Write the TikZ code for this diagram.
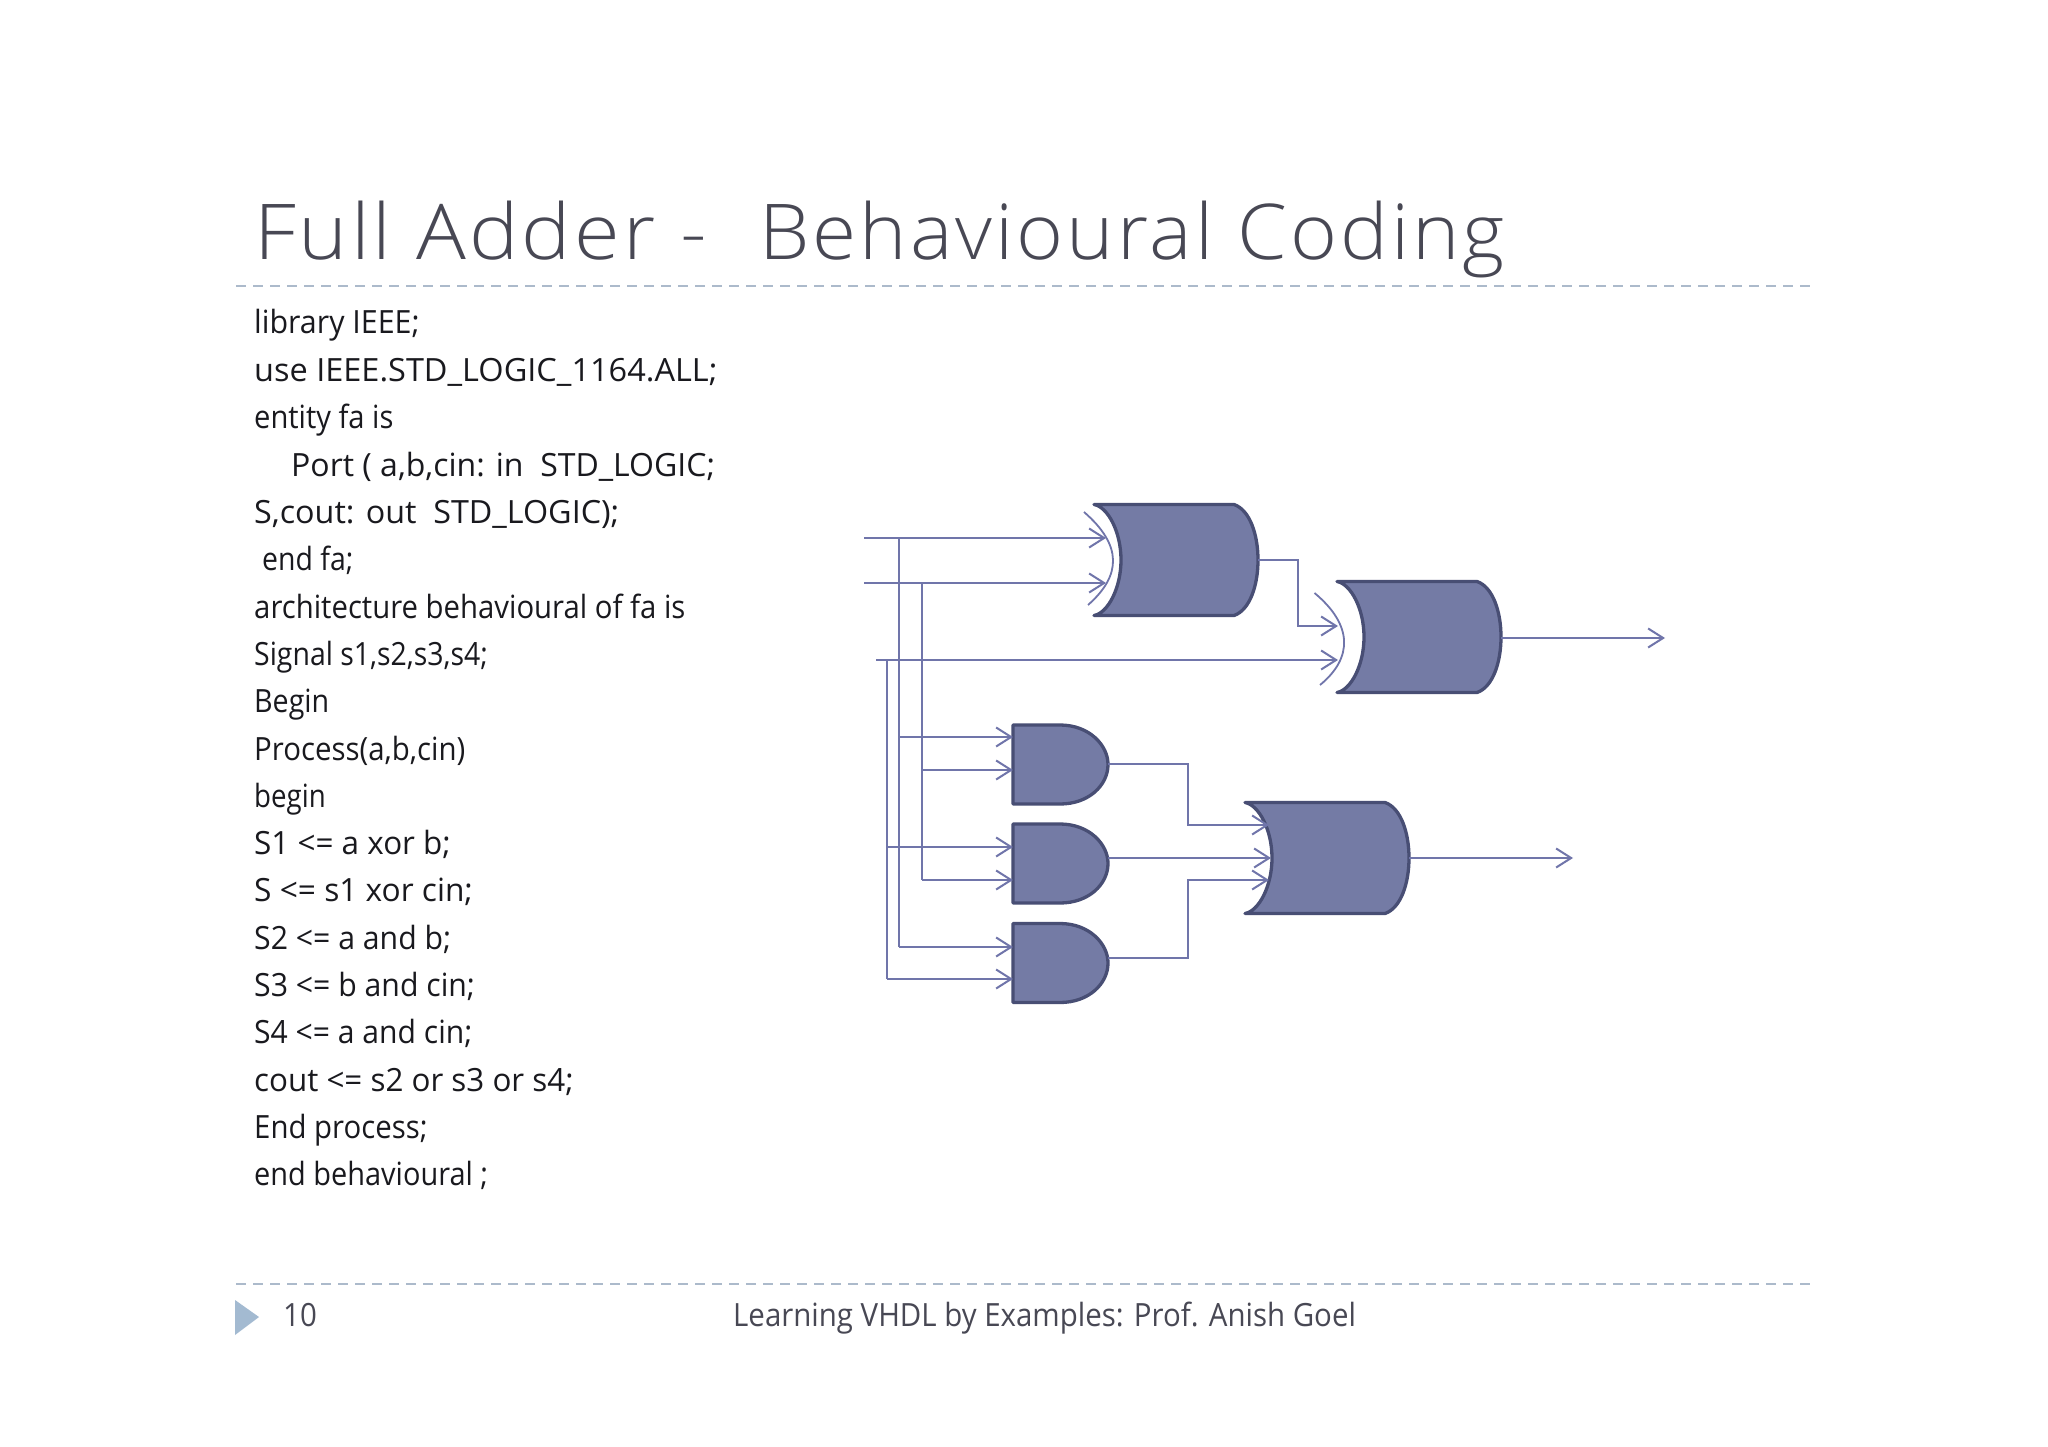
\documentclass[tikz,border=0pt]{standalone}
\usepackage{fontspec}
\usepackage{graphicx}
\usetikzlibrary{arrows.meta}
\newfontfamily\titlef[LetterSpace=4,FakeStretch=1.06]{Open Sans Light}
\newfontfamily\bodyf[FakeStretch=0.80]{Open Sans}
\newfontfamily\footf[FakeStretch=0.92]{Open Sans}
\definecolor{gatefill}{RGB}{116,123,165}
\definecolor{gateedge}{RGB}{72,78,116}
\definecolor{wire}{RGB}{112,117,170}
\definecolor{rulec}{RGB}{172,186,203}
\definecolor{titlec}{RGB}{72,72,84}
\definecolor{bodyc}{RGB}{25,25,30}
\definecolor{footc}{RGB}{72,72,84}
\definecolor{tric}{RGB}{163,186,209}
\tikzset{
  x=1pt,y=-1pt,
  gatepath/.style={fill=gatefill,draw=gateedge,line width=3.3pt,line join=round},
  wirepath/.style={draw=wire,line width=2pt},
  inw/.style={wirepath,-{Straight Barb[length=15pt,width=19pt,line width=2pt]}},
  shield/.style={draw=wire,line width=1.8pt},
  dashrule/.style={draw=rulec,line width=2.6pt,dash pattern=on 10pt off 7pt},
  codeline/.style={anchor=base west,inner sep=0pt,font=\bodyf\fontsize{32}{32}\selectfont,text=bodyc},
  footline/.style={anchor=base west,inner sep=0pt,text=footc,font=\footf\fontsize{32}{32}\selectfont},
}
\newcommand{\sx}[2]{\scalebox{#1}[1]{#2}}
\newcommand{\xorgate}[2]{% #1 x of tip, #2 mid y
  \path[gatepath] (#1,#2-55.5) -- (#1+140,#2-55.5)
    .. controls (#1+156,#2-50) and (#1+164,#2-25) .. (#1+164,#2)
    .. controls (#1+164,#2+25) and (#1+156,#2+50) .. (#1+140,#2+55.5)
    -- (#1,#2+55.5)
    .. controls (#1+14,#2+53) and (#1+27,#2+28) .. (#1+27,#2)
    .. controls (#1+27,#2-28) and (#1+14,#2-53) .. (#1,#2-55.5) -- cycle;
}
\newcommand{\andgate}[2]{% #1 left x, #2 top y
  \path[gatepath] (#1,#2) -- (#1+47,#2)
    .. controls (#1+76,#2) and (#1+95,#2+20) .. (#1+95,#2+39.5)
    .. controls (#1+95,#2+60) and (#1+76,#2+79) .. (#1+47,#2+79)
    -- (#1,#2+79) -- cycle;
}
\begin{document}
\begin{tikzpicture}
\useasboundingbox (0,0) rectangle (2048,1447);
\fill[white] (0,0) rectangle (2048,1447);

% title and rules
\node[anchor=base west,inner sep=0pt,text=titlec,font=\titlef\fontsize{77}{77}\selectfont] (title) at (254,259.5) {\sx{1.017}{Full Adder -}~~\hspace{4pt}\sx{0.983}{Behavioural Coding}};
\coordinate (rt1) at (236,286); \coordinate (rt2) at (1815,286);
\coordinate (rb1) at (236,1284); \coordinate (rb2) at (1815,1284);
\draw[dashrule] (rt1) -- (rt2);
\draw[dashrule] (rb1) -- (rb2);
\fill[tric] (235,1300) -- (259,1317) -- (235,1335) -- cycle;
\node[footline] (pageno) at (283,1326) {10};
\node[footline] (foot) at (733,1326) {Learning VHDL by Examples: Prof. Anish Goel};

% code
\node[codeline] (c1) at (254,334) {\sx{1.187}{library IEEE;}};
\node[codeline] (c2) at (254,381.3) {\sx{1.269}{use IEEE.STD\_LOGIC\_1164.ALL;}};
\node[codeline] (c3) at (254,428.6) {\sx{1.138}{entity fa is}};
\node[codeline] (c4) at (291,476) {\sx{1.25}{Port ( a,b,cin: in~~STD\_LOGIC;}};
\node[codeline] (c5) at (254,523.3) {\sx{1.262}{S,cout: out~~STD\_LOGIC);}};
\node[codeline] (c6) at (262,570.6) {\sx{1.11}{end fa;}};
\node[codeline] (c7) at (254,618) {\sx{1.145}{architecture behavioural of fa is}};
\node[codeline] (c8) at (254,665.3) {\sx{1.11}{Signal s1,s2,s3,s4;}};
\node[codeline] (c9) at (254,712.6) {\sx{1.118}{Begin}};
\node[codeline] (c10) at (254,760) {\sx{1.149}{Process(a,b,cin)}};
\node[codeline] (c11) at (254,807.3) {\sx{1.08}{begin}};
\node[codeline] (c12) at (254,854.6) {\sx{1.228}{S1 <= a xor b;}};
\node[codeline] (c13) at (254,901.9) {\sx{1.237}{S <= s1 xor cin;}};
\node[codeline] (c14) at (254,949.2) {\sx{1.18}{S2 <= a and b;}};
\node[codeline] (c15) at (254,996.5) {\sx{1.18}{S3 <= b and cin;}};
\node[codeline] (c16) at (254,1043.8) {\sx{1.175}{S4 <= a and cin;}};
\node[codeline] (c17) at (254,1091.1) {\sx{1.225}{cout <= s2 or s3 or s4;}};
\node[codeline] (c18) at (254,1138.4) {\sx{1.147}{End process;}};
\node[codeline] (c19) at (254,1185.7) {\sx{1.13}{end behavioural ;}};

% pins
\coordinate (ina) at (864,538);
\coordinate (inb) at (864,583);
\coordinate (incin) at (876,660);
\coordinate (ja) at (899,538);
\coordinate (jb) at (922,583);
\coordinate (jc) at (887,660);
\coordinate (x1a) at (1106,538);
\coordinate (x1b) at (1106,583);
\coordinate (x1o) at (1258,560);
\coordinate (x1k) at (1298,626);
\coordinate (x2a) at (1338,626);
\coordinate (x2b) at (1338,660);
\coordinate (x2o) at (1501,638);
\coordinate (x2end) at (1665,638);
\coordinate (a1a) at (1013,737);
\coordinate (a1b) at (1013,770);
\coordinate (a2a) at (1013,847);
\coordinate (a2b) at (1013,880);
\coordinate (a3a) at (1013,947);
\coordinate (a3b) at (1013,979);
\coordinate (j1a) at (899,737);
\coordinate (j1b) at (922,770);
\coordinate (j2a) at (887,847);
\coordinate (j2b) at (922,880);
\coordinate (j3a) at (899,947);
\coordinate (j3b) at (887,979);
\coordinate (a1o) at (1108,764);
\coordinate (a2o) at (1108,858);
\coordinate (a3o) at (1108,958);
\coordinate (a1k) at (1188,825);
\coordinate (a3k) at (1188,880);
\coordinate (o1) at (1269,825);
\coordinate (o2) at (1271,858);
\coordinate (o3) at (1269,880);
\coordinate (oo) at (1409,858);
\coordinate (oend) at (1573,858);

% gates
\xorgate{1094}{560}
\xorgate{1337}{637}
\xorgate{1245}{858}
\andgate{1013}{725}
\andgate{1013}{824}
\andgate{1013}{923.5}

% input shields of the xor gates
\draw[shield] (1084,512) .. controls (1122,545) and (1122,575) .. (1088,605);
\draw[shield] (1314.5,593) .. controls (1353,625) and (1353,658) .. (1320,685);

% wires
\draw[inw] (ina) -- (x1a);
\draw[inw] (inb) -- (x1b);
\draw[inw] (incin) -- (x2b);
\draw[wirepath] (ja) -- (j3a);
\draw[wirepath] (jb) -- (j2b);
\draw[wirepath] (jc) -- (j3b);
\draw[inw] (j1a) -- (a1a);
\draw[inw] (j1b) -- (a1b);
\draw[inw] (j2a) -- (a2a);
\draw[inw] (j2b) -- (a2b);
\draw[inw] (j3a) -- (a3a);
\draw[inw] (j3b) -- (a3b);
\draw[inw] (x1o) -| (x1k) -- (x2a);
\draw[inw] (x2o) -- (x2end);
\draw[inw] (a1o) -| (a1k) -- (o1);
\draw[inw] (a2o) -- (o2);
\draw[inw] (a3o) -| (a3k) -- (o3);
\draw[inw] (oo) -- (oend);
\end{tikzpicture}
\end{document}
